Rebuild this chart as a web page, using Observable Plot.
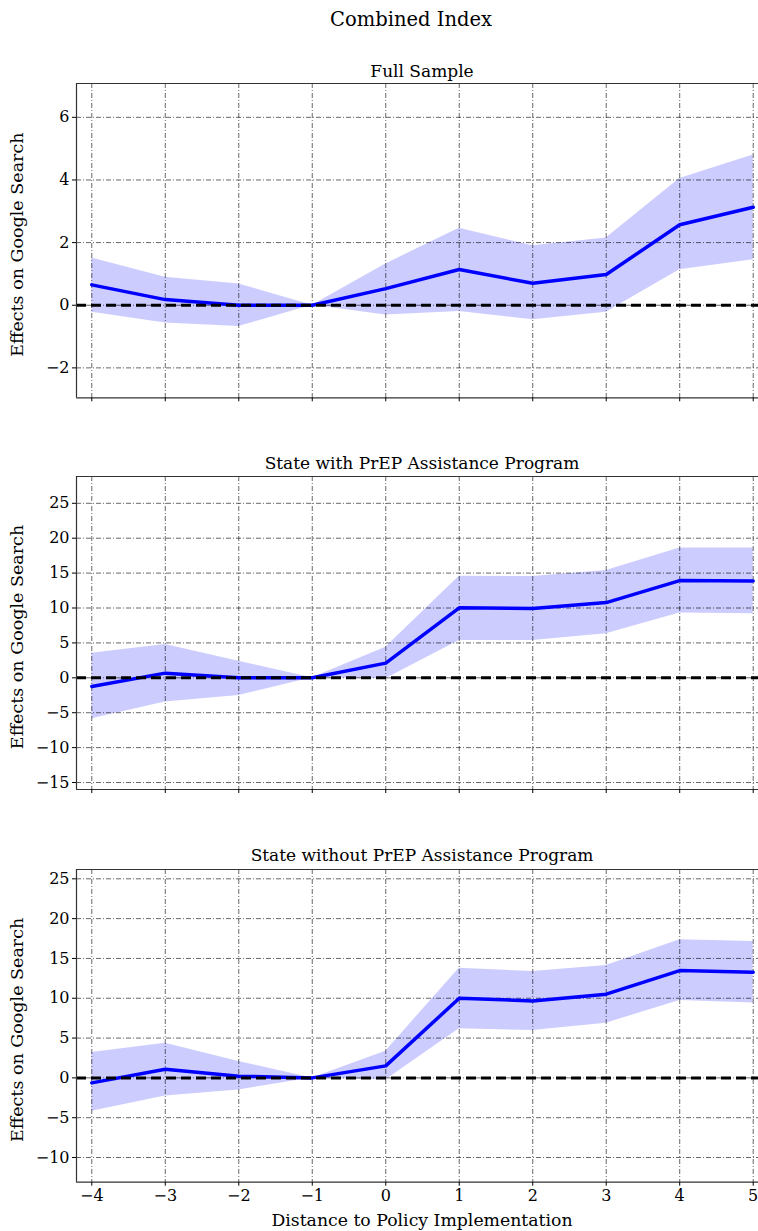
<!DOCTYPE html>
<html><head><meta charset="utf-8">
<script src="https://cdn.jsdelivr.net/npm/d3@7"></script>
<script src="https://cdn.jsdelivr.net/npm/@observablehq/plot@0.6"></script>
<style>
body{margin:0;background:#fff;}
#wrap{position:relative;width:758px;height:1231px;overflow:hidden;font-family:"DejaVu Serif",serif;background:#fff;}
#sup{position:absolute;top:8px;left:411px;transform:translateX(-50%);font-size:19.5px;line-height:24px;white-space:nowrap;color:#000;}
.panel{position:absolute;left:0;}
</style></head><body>
<div id="wrap"><div id="sup">Combined Index</div></div>
<script>
const periods = [-4, -3, -2, -1, 0, 1, 2, 3, 4, 5];

const fullEst = [0.65, 0.18, 0.00, 0, 0.53, 1.14, 0.70, 0.98, 2.57, 3.13];
const fullLo  = [-0.22, -0.57, -0.68, 0, -0.31, -0.20, -0.46, -0.22, 1.13, 1.45];
const fullHi  = [1.51, 0.89, 0.68, 0, 1.32, 2.46, 1.90, 2.15, 4.05, 4.80];

const withEst = [-1.24, 0.67, 0.00, 0, 2.10, 10.02, 9.92, 10.78, 13.93, 13.88];
const withLo  = [-5.87, -3.48, -2.53, 0, -0.14, 5.34, 5.34, 6.30, 9.30, 9.16];
const withHi  = [3.53, 4.77, 2.39, 0, 4.39, 14.55, 14.50, 15.36, 18.60, 18.60];

const withoutEst = [-0.63, 1.09, 0.21, 0, 1.51, 10.00, 9.67, 10.51, 13.48, 13.27];
const withoutLo  = [-4.19, -2.26, -1.51, 0, -0.25, 6.16, 5.95, 6.87, 9.72, 9.42];
const withoutHi  = [3.18, 4.36, 2.05, 0, 3.35, 13.78, 13.36, 14.11, 17.34, 17.13];

const ticksFull = [-2, 0, 2, 4, 6];
const ticksWith = [-15, -10, -5, 0, 5, 10, 15, 20, 25];
const ticksWithout = [-10, -5, 0, 5, 10, 15, 20, 25];

const titles = ["Full Sample", "State with PrEP Assistance Program", "State without PrEP Assistance Program"];
const yLabel = "Effects on Google Search";
const xLabel = "Distance to Policy Implementation";

const xDomain = [-4.208, 5.072];
const fmt = d => d < 0 ? "\u2212" + (-d) : String(d);

function panel(cfg) {
  const data = periods.map((p, i) => ({p, est: cfg.est[i], lo: cfg.lo[i], hi: cfg.hi[i]}));
  const marks = [
    Plot.areaY(data, {x: "p", y1: "lo", y2: "hi", fill: "#0000ff", fillOpacity: 0.2}),
    Plot.gridX(periods, {stroke: "#000", strokeOpacity: 0.75, strokeWidth: 0.8, strokeDasharray: "5,2,1,2"}),
    Plot.gridY(cfg.ticks, {stroke: "#000", strokeOpacity: 0.75, strokeWidth: 0.8, strokeDasharray: "5,2,1,2"}),
    Plot.lineY(data, {x: "p", y: "est", stroke: "#0000ff", strokeWidth: 3.5}),
    Plot.ruleY([0], {stroke: "#000", strokeWidth: 3, strokeDasharray: "10,5"}),
    Plot.ruleY([cfg.yDomain[0]], {stroke: "#333", strokeWidth: 1.2}),
    Plot.ruleY([cfg.yDomain[1]], {stroke: "#333", strokeWidth: 1.2}),
    Plot.ruleX([xDomain[0]], {stroke: "#333", strokeWidth: 1.2}),
    Plot.axisX({ticks: periods, tickSize: 4, tickPadding: 3, tickFormat: cfg.showX ? fmt : () => "", label: null, fontSize: 16}),
    Plot.axisY({ticks: cfg.ticks, tickSize: 4, tickPadding: 3, tickFormat: fmt, label: null, fontSize: 16}),
    Plot.text([cfg.title], {frameAnchor: "top", dx: 4.5, dy: cfg.titleY - cfg.mt, lineAnchor: "middle", fontSize: 17}),
    Plot.text([yLabel], {frameAnchor: "left", rotate: -90, textAnchor: "middle", dx: 17 - 76, dy: 4, lineAnchor: "middle", fontSize: 17.5})
  ];
  if (cfg.showX) {
    marks.push(Plot.text([xLabel], {frameAnchor: "bottom", dx: 4.5, dy: 38.3, lineAnchor: "middle", fontSize: 17.3}));
  }
  const svg = Plot.plot({
    width: 758, height: cfg.height,
    marginLeft: 76, marginRight: 0, marginTop: cfg.mt, marginBottom: cfg.mb,
    style: {fontFamily: "DejaVu Serif", fontSize: "16px", color: "#000", background: "transparent"},
    x: {domain: xDomain},
    y: {domain: cfg.yDomain},
    marks
  });
  svg.classList.add("panel");
  svg.style.top = cfg.top + "px";
  svg.style.position = "absolute";
  document.getElementById("wrap").appendChild(svg);
}

panel({est: fullEst, lo: fullLo, hi: fullHi, ticks: ticksFull, yDomain: [-2.955, 7.08],
  title: titles[0], top: 45, height: 370, mt: 38, mb: 17.7, titleY: 25.7, showX: false});
panel({est: withEst, lo: withLo, hi: withHi, ticks: ticksWith, yDomain: [-16.0, 28.84],
  title: titles[1], top: 437, height: 370, mt: 39, mb: 18, titleY: 25.7, showX: false});
panel({est: withoutEst, lo: withoutLo, hi: withoutHi, ticks: ticksWithout, yDomain: [-13.1, 26.17],
  title: titles[2], top: 830, height: 401, mt: 39, mb: 49.3, titleY: 25, showX: true});
</script>
</body></html>
